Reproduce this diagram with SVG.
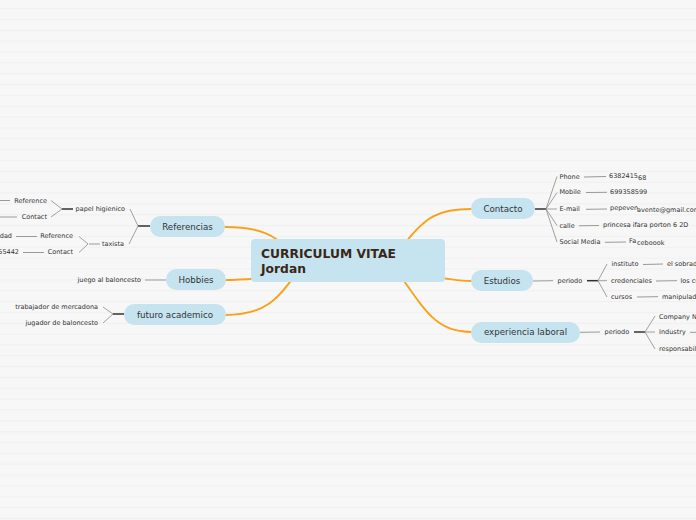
<svg xmlns="http://www.w3.org/2000/svg" width="696" height="520" viewBox="0 0 696 520">
<defs>
<pattern id="stripes" x="0" y="8" width="696" height="10.85" patternUnits="userSpaceOnUse">
<rect width="696" height="10.85" fill="#f7f7f7"/>
<rect y="0" width="696" height="1" fill="#f0f0f0"/>
</pattern>
<style>
.pill{fill:#c5e4f0;}
.nl{font-family:"DejaVu Sans",Verdana,sans-serif;font-size:8.7px;fill:#333;text-anchor:middle;dominant-baseline:central;}
.sl{font-family:"DejaVu Sans",Verdana,sans-serif;font-size:6.5px;fill:#333;dominant-baseline:central;}
.end{text-anchor:end;}
.main{fill:none;stroke:#f7a21b;stroke-width:1.8;stroke-linecap:round;}
.fork{fill:none;stroke:#8a8a8a;stroke-width:0.8;}
.stub{fill:none;stroke:#333;stroke-width:1.5;}
.val{fill:none;stroke:#999;stroke-width:1;}
</style>
</defs>
<rect width="696" height="520" fill="url(#stripes)"/>
<g id="connectors">
<path class="main" d="M225,227 C260,227 275,235 292,252"/>
<path class="main" d="M225,280 Q240,280 262,278"/>
<path class="main" d="M225,315 C265,315 278,300 300,268"/>
<path class="main" d="M471,209 C440,209 425,215 400,250"/>
<path class="main" d="M471,281 C458,281 452,279 440,278"/>
<path class="main" d="M471,332 C435,332 425,310 395,268"/>
<path class="stub" d="M150,226 L138,226"/>
<path class="fork" d="M138,226 L130,209 M138,226 L129,244"/>
<path class="stub" d="M73,209 L62,209"/>
<path class="fork" d="M62,209 L51,200.5 M62,209 L51,217"/>
<path class="val" d="M0,200.5 L10,200.5 M0,217 L17,217"/>
<path class="val" d="M100,244 L89,244"/>
<path class="fork" d="M88,244 L79,236.5 M88,244 L79,252.5"/>
<path class="val" d="M16,236.5 L37,236.5 M23,252.5 L44,252.5"/>
<path class="val" d="M145,280 L166,280"/>
<path class="stub" d="M124,314 L113,314"/>
<path class="fork" d="M113,314 L103,307 M113,314 L103,323"/>
<path class="stub" d="M535,209 L546,209"/>
<path class="fork" d="M546,209 L557,176.5 M546,209 L557,192.5 M546,209 L557,209 M546,209 L557,225.5 M546,209 L557,242"/>
<path class="val" d="M584,177 L606,176.5 M586,192.5 L607,192.3 M586,209.3 L607,209 M579,225.8 L599,225.5 M605,242.3 L626,242"/>
<path class="val" d="M533,281 L553,280.7"/>
<path class="stub" d="M587,280.7 L598,280.7"/>
<path class="fork" d="M598,280.7 L607,264 M598,280.7 L607,280.7 M598,280.7 L607,297"/>
<path class="val" d="M643,264.5 L663,264 M656,281 L677,280.7 M637,297 L658,296.7"/>
<path class="val" d="M580,332.3 L600,332"/>
<path class="stub" d="M634,332 L645,332"/>
<path class="fork" d="M645,332 L655,316 M645,332 L655,332 M645,332 L655,349"/>
<path class="val" d="M690,332.3 L696,332.3"/>
</g>
<g id="center">
<rect x="251" y="239" width="194" height="43" rx="4" fill="#c5e4f0"/>
<text x="261" y="258" font-family="'DejaVu Sans',Verdana,sans-serif" font-size="12.3" font-weight="bold" fill="#3a2618">CURRICULUM VITAE</text>
<text x="261" y="273" font-family="'DejaVu Sans',Verdana,sans-serif" font-size="12.3" font-weight="bold" fill="#3a2618">Jordan</text>
</g>
<g id="referencias">
<rect class="pill" x="150" y="216" width="75" height="21" rx="10.5"/>
<text class="nl" x="187.5" y="226.5">Referencias</text>
</g>
<g id="papel-higienico">
<text class="sl end" x="125" y="209">papel higienico</text>
<text class="sl end" x="47" y="200.5">Reference</text>
<text class="sl end" x="47" y="217">Contact</text>
</g>
<g id="taxista">
<text class="sl end" x="124" y="244.3">taxista</text>
<text class="sl end" x="73" y="236.3">Reference</text>
<text class="sl end" x="73" y="252.3">Contact</text>
<text class="sl end" x="12" y="236">dad</text>
<text class="sl end" x="19" y="252.3">55442</text>
</g>
<g id="hobbies">
<rect class="pill" x="166" y="269" width="60" height="21" rx="10.5"/>
<text class="nl" x="196" y="279.5">Hobbies</text>
<text class="sl end" x="141" y="279.7">juego al baloncesto</text>
</g>
<g id="futuro">
<rect class="pill" x="124" y="304" width="102" height="21" rx="10.5"/>
<text class="nl" x="175" y="314.5">futuro academico</text>
<text class="sl end" x="98" y="306.7">trabajador de mercadona</text>
<text class="sl end" x="98" y="322.7">jugador de baloncesto</text>
</g>
<g id="contacto">
<rect class="pill" x="471" y="198" width="64" height="21" rx="10.5"/>
<text class="nl" x="503" y="208.7">Contacto</text>
<text class="sl" x="559.5" y="176.7">Phone</text>
<text class="sl" x="609" y="176">6382415</text>
<text class="sl" x="638" y="177.8">68</text>
<text class="sl" x="559.5" y="192.3">Mobile</text>
<text class="sl" x="610" y="192">699358599</text>
<text class="sl" x="559.5" y="209">E-mail</text>
<text class="sl" x="610" y="208.2">pepeven</text>
<text class="sl" x="637" y="209.6">avente@gmail.com</text>
<text class="sl" x="559.5" y="225.7">calle</text>
<text class="sl" x="603" y="225.3">princesa ifara porton 6 2D</text>
<text class="sl" x="559.5" y="242.3">Social Media</text>
<text class="sl" x="629" y="241.2">Fa</text>
<text class="sl" x="637" y="243">ceboook</text>
</g>
<g id="estudios">
<rect class="pill" x="471" y="270" width="62" height="21" rx="10.5"/>
<text class="nl" x="502" y="280.7">Estudios</text>
<text class="sl" x="557.5" y="280.7">periodo</text>
<text class="sl" x="611.5" y="264">instituto</text>
<text class="sl" x="667" y="264">el sobrado</text>
<text class="sl" x="611" y="280.7">credenciales</text>
<text class="sl" x="680.5" y="280.7">los cursos</text>
<text class="sl" x="611" y="296.7">cursos</text>
<text class="sl" x="662" y="296.7">manipulador</text>
</g>
<g id="experiencia">
<rect class="pill" x="471" y="322" width="109" height="21" rx="10.5"/>
<text class="nl" x="525.5" y="332.3">experiencia laboral</text>
<text class="sl" x="604.5" y="332">periodo</text>
<text class="sl" x="659" y="316.7">Company Name</text>
<text class="sl" x="659" y="332.2">Industry</text>
<text class="sl" x="659" y="349">responsabilidades</text>
</g>
</svg>
